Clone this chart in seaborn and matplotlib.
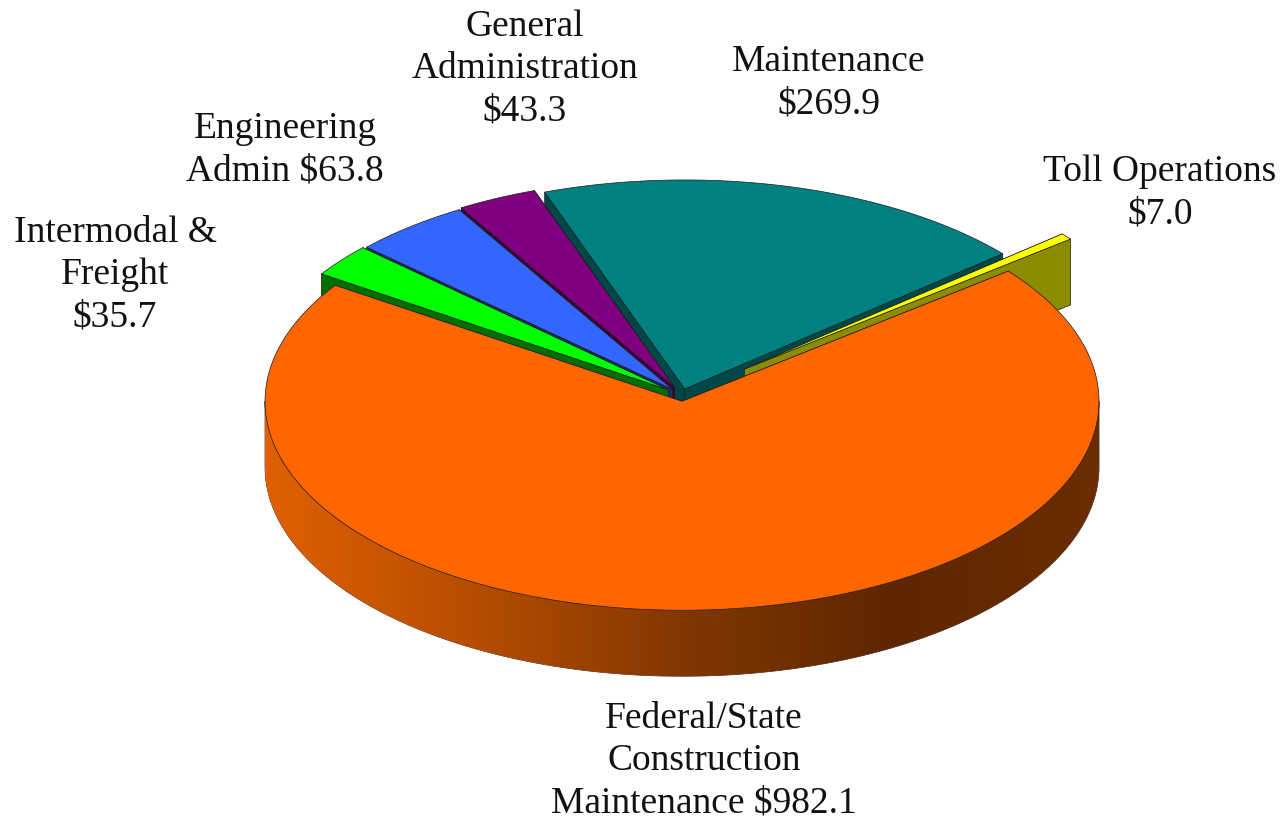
import numpy as np
import matplotlib
matplotlib.use("Agg")
import matplotlib.pyplot as plt
from matplotlib.patches import Polygon
import seaborn as sns

categories = ["Federal/State Construction Maintenance", "Toll Operations", "Maintenance",
              "General Administration", "Engineering Admin", "Intermodal & Freight"]
values = [982.1, 7.0, 269.9, 43.3, 63.8, 35.7]
label_lines = ["Federal/State\nConstruction\nMaintenance ${:.1f}", "Toll Operations\n${:.1f}",
               "Maintenance\n${:.1f}", "General\nAdministration\n${:.1f}",
               "Engineering\nAdmin ${:.1f}", "Intermodal &\nFreight\n${:.1f}"]

top_colors = ["#FF6600", "#FFFF00", "#008080", "#800080", "#3366FF", "#00FF00"]
side_colors = ["#B34700", "#8C8C00", "#004848", "#400040", "#1A2A70", "#006E00"]
wall_stops = ["#E06000", "#B64D00", "#823700", "#5E2700", "#6B2D00"]
explode = [0.03, 0.195, 0.03, 0.04, 0.035, 0.04]
label_pos = [(704, 761), (1160, 193), (829, 83), (525, 69), (285, 150), (115, 275)]

CX, CY = 681.5, 395
RX, RY = 417, 209
DEPTH = 66
START = 146.3

sns.set_theme(style="white")
plt.rcParams["font.family"] = ["Liberation Serif", "DejaVu Serif"]

fig = plt.figure(figsize=(12.81, 8.19), dpi=100)
ax = fig.add_axes([0, 0, 1, 1])

total = sum(values)
sweeps = np.array(values) / total * 360
starts = START + np.concatenate([[0], np.cumsum(sweeps)[:-1]])
z = 1


def arc(cx, cy, t0, t1):
    t = np.radians(np.linspace(t0, t1, 200))
    return np.column_stack([cx + RX * np.cos(t), cy - RY * np.sin(t)])


def add_poly(pts, color, lw=0.5):
    global z
    p = Polygon(pts, closed=True, facecolor=color, edgecolor="#1c1c1c", linewidth=lw,
                joinstyle="round", zorder=z)
    ax.add_patch(p)
    z += 1
    return p


# back slices first, federal slice last so it sits on top
for i in [2, 3, 4, 5, 1, 0]:
    t0, t1 = starts[i], starts[i] + sweeps[i]
    mid = np.radians((t0 + t1) / 2)
    cx = CX + explode[i] * RX * np.cos(mid)
    cy = CY - explode[i] * RY * np.sin(mid)
    rim = arc(cx, cy, t0, t1)
    drop = np.array([0, DEPTH])
    apex = np.array([cx, cy])

    corners = (rim[-1], rim[0]) if i == 1 else (rim[0], rim[-1])
    for corner in corners:
        add_poly([apex, corner, corner + drop, apex + drop], side_colors[i])

    if i == 0:
        front = arc(cx, cy, 180, 360)
        wall = add_poly(np.vstack([front, (front + drop)[::-1]]), "none")
        cmap = sns.blend_palette(wall_stops, as_cmap=True)
        img = ax.imshow(np.linspace(0, 1, 512)[None, :], cmap=cmap, aspect="auto",
                        extent=[front[:, 0].min(), front[:, 0].max(), cy + RY + DEPTH, cy],
                        zorder=z)
        img.set_clip_path(wall)
        z += 1

    add_poly(np.vstack([apex, rim]), top_colors[i])

for name, tmpl, v, (x, y) in zip(categories, label_lines, values, label_pos):
    ax.text(x, y, tmpl.format(v).replace("$", r"\$"), fontsize=27, color="#111111", ha="center", va="center",
            linespacing=1.31, zorder=z)

ax.set_xlim(0, 1281)
ax.set_ylim(819, 0)
ax.axis("off")
fig.savefig("out.png", dpi=100, facecolor="white")
